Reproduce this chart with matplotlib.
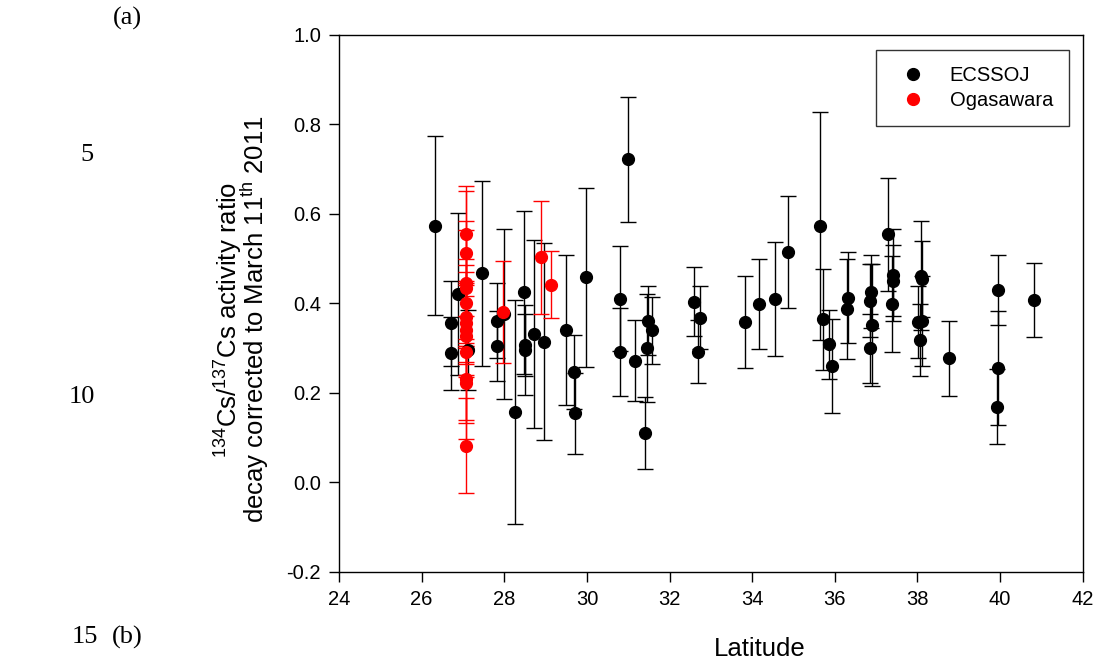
import numpy as np
import matplotlib
matplotlib.use("Agg")
import matplotlib.pyplot as plt
from matplotlib.lines import Line2D

plt.rcParams['font.family'] = ['Liberation Sans', 'DejaVu Sans']
plt.rcParams['mathtext.fontset'] = 'custom'
plt.rcParams['mathtext.rm'] = 'Liberation Sans'
plt.rcParams['mathtext.it'] = 'Liberation Sans:italic'

# ECSSOJ stations (latitude, ratio, error)
ecssoj_lat = [26.32, 26.89, 26.71, 26.71, 27.47, 27.13, 27.82, 27.82, 28.00, 28.26,
              28.48, 28.50, 28.50, 28.73, 28.97, 29.49, 29.69, 29.71, 29.97, 30.80,
              30.80, 30.99, 31.17, 31.41, 31.47, 31.45, 31.57, 32.60, 32.74, 32.70,
              33.83, 34.16, 34.54, 34.87, 35.64, 35.72, 35.86, 35.94, 36.31, 36.30,
              36.87, 36.86, 36.89, 36.85, 37.28, 37.40, 37.40, 37.39, 38.08, 38.10,
              38.02, 38.10, 38.06, 38.76, 39.94, 39.94, 39.92, 40.82]
ecssoj_ratio = [0.573, 0.421, 0.355, 0.288, 0.467, 0.296, 0.361, 0.305, 0.376, 0.157,
                0.425, 0.307, 0.296, 0.331, 0.314, 0.340, 0.247, 0.154, 0.458, 0.410,
                0.291, 0.722, 0.272, 0.110, 0.361, 0.300, 0.340, 0.404, 0.368, 0.292,
                0.359, 0.398, 0.410, 0.514, 0.573, 0.364, 0.309, 0.260, 0.413, 0.387,
                0.426, 0.406, 0.352, 0.300, 0.554, 0.463, 0.451, 0.398, 0.462, 0.454,
                0.358, 0.361, 0.318, 0.277, 0.430, 0.255, 0.169, 0.407]
ecssoj_err = [0.200, 0.180, 0.096, 0.082, 0.207, 0.090, 0.084, 0.078, 0.190, 0.250,
              0.182, 0.070, 0.100, 0.210, 0.220, 0.168, 0.082, 0.090, 0.200, 0.117,
              0.098, 0.140, 0.090, 0.080, 0.077, 0.120, 0.075, 0.078, 0.070, 0.070,
              0.103, 0.100, 0.127, 0.125, 0.255, 0.113, 0.077, 0.105, 0.102, 0.111,
              0.082, 0.081, 0.137, 0.077, 0.127, 0.103, 0.080, 0.107, 0.122, 0.085,
              0.080, 0.100, 0.080, 0.083, 0.078, 0.127, 0.084, 0.083]

# Ogasawara stations
oga_lat = [27.07, 27.07, 27.07, 27.07, 27.07, 27.07, 27.07, 27.07, 27.07, 27.07,
           27.07, 27.07, 27.07, 27.98, 28.89, 29.13]
oga_ratio = [0.556, 0.512, 0.445, 0.434, 0.400, 0.370, 0.355, 0.340, 0.326, 0.291,
             0.230, 0.222, 0.082, 0.381, 0.503, 0.442]
oga_err = [0.105, 0.140, 0.140, 0.130, 0.100, 0.100, 0.090, 0.100, 0.090, 0.195,
           0.090, 0.090, 0.106, 0.114, 0.126, 0.075]

fig = plt.figure(figsize=(10.99, 6.64), dpi=100)
ax = fig.add_axes([0.3085, 0.1386, 0.6767, 0.8091])

ax.errorbar(ecssoj_lat, ecssoj_ratio, yerr=ecssoj_err, fmt='o', color='black',
            ecolor='black', markersize=8.5, elinewidth=1.0, capsize=6, capthick=1.0)
ax.errorbar(oga_lat, oga_ratio, yerr=oga_err, fmt='o', color='red',
            ecolor='red', markersize=8.5, elinewidth=1.0, capsize=6, capthick=1.0)

ax.set_xlim(24, 42)
ax.set_ylim(-0.2, 1.0)
ax.set_xticks(np.arange(24, 43, 2))
ax.set_yticks(np.arange(-0.2, 1.01, 0.2))
ax.set_yticklabels(['%.1f' % t for t in np.arange(-0.2, 1.01, 0.2)])
ax.tick_params(direction='out', length=7, width=1, labelsize=14.5, pad=6)
for s in ax.spines.values():
    s.set_linewidth(1)

ax.set_xlabel('Latitude', fontsize=18.5)
ax.xaxis.set_label_coords(0.566, -0.121)
ax.set_ylabel(r'$^{134}$Cs/$^{137}$Cs activity ratio' + '\n'
              + r'decay corrected to March 11$^{\mathrm{th}}$ 2011',
              fontsize=18.5, linespacing=0.78)
ax.yaxis.set_label_coords(-0.091, 0.47)

handles = [Line2D([], [], marker='o', linestyle='none', color='black', markersize=8.5),
           Line2D([], [], marker='o', linestyle='none', color='red', markersize=8.5)]
leg = ax.legend(handles, ['ECSSOJ', 'Ogasawara'], loc='upper right',
                bbox_to_anchor=(0.982, 0.972), borderaxespad=0, fancybox=False,
                edgecolor='black', fontsize=14.5, handletextpad=0.85, borderpad=0.8,
                labelspacing=0.3)
leg.get_frame().set_linewidth(1)

serif = ['Liberation Serif', 'DejaVu Serif']
fig.text(127 / 1099, 1 - 18 / 664, '(a)', family=serif, fontsize=19, ha='center', va='center')
fig.text(87 / 1099, 1 - 155 / 664, '5', family=serif, fontsize=19, ha='center', va='center')
fig.text(82 / 1099, 1 - 397 / 664, '10', family=serif, fontsize=19, ha='center', va='center')
fig.text(85 / 1099, 1 - 637 / 664, '15', family=serif, fontsize=19, ha='center', va='center')
fig.text(127 / 1099, 1 - 637 / 664, '(b)', family=serif, fontsize=19, ha='center', va='center')

fig.savefig('out.png', dpi=100)
